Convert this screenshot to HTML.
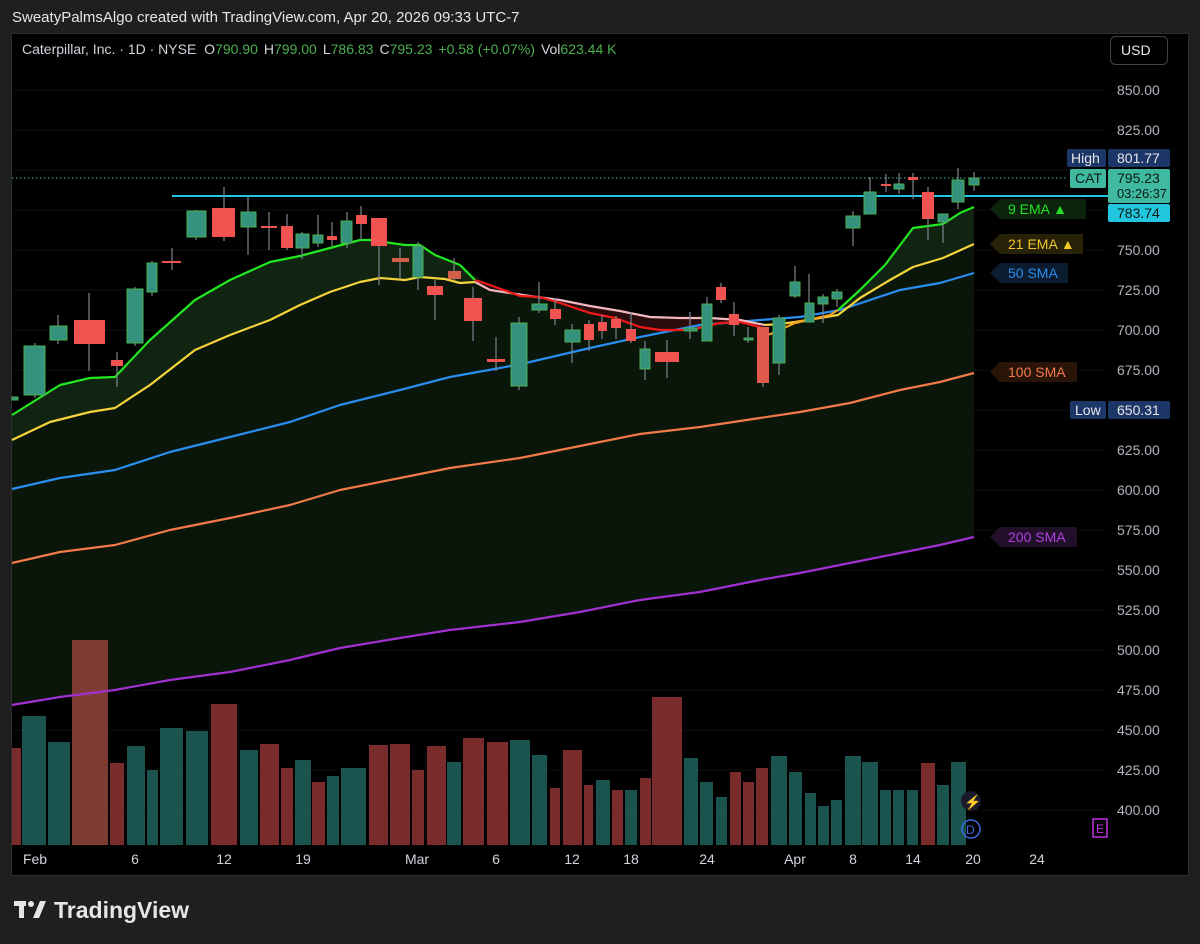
<!DOCTYPE html>
<html><head><meta charset="utf-8"><style>
html,body{margin:0;padding:0;background:#1f1f1f;width:1200px;height:944px;overflow:hidden}
svg{display:block}
text{font-family:"Liberation Sans",sans-serif}
</style></head><body>
<svg width="1200" height="944" viewBox="0 0 1200 944" xmlns="http://www.w3.org/2000/svg">
<rect width="1200" height="944" fill="#1f1f1f"/>
<text x="12" y="22" fill="#e6e6e6" font-size="15">SweatyPalmsAlgo created with TradingView.com, Apr 20, 2026 09:33 UTC-7</text>
<rect x="11.5" y="33.5" width="1177" height="842" fill="#000" stroke="#2e2e2e"/>
<!-- grid -->
<g stroke="#0e0e0e" stroke-width="1">
<line x1="12" x2="1108" y1="90" y2="90"/><line x1="12" x2="1108" y1="130" y2="130"/><line x1="12" x2="1108" y1="170" y2="170"/><line x1="12" x2="1108" y1="210" y2="210"/><line x1="12" x2="1108" y1="250" y2="250"/><line x1="12" x2="1108" y1="290" y2="290"/><line x1="12" x2="1108" y1="330" y2="330"/><line x1="12" x2="1108" y1="370" y2="370"/><line x1="12" x2="1108" y1="410" y2="410"/><line x1="12" x2="1108" y1="450" y2="450"/><line x1="12" x2="1108" y1="490" y2="490"/><line x1="12" x2="1108" y1="530" y2="530"/><line x1="12" x2="1108" y1="570" y2="570"/><line x1="12" x2="1108" y1="610" y2="610"/><line x1="12" x2="1108" y1="650" y2="650"/><line x1="12" x2="1108" y1="690" y2="690"/><line x1="12" x2="1108" y1="730" y2="730"/><line x1="12" x2="1108" y1="770" y2="770"/><line x1="12" x2="1108" y1="810" y2="810"/>
</g>
<!-- fills -->
<polygon fill="#0b160b" points="12,415 60,385 90,378 115,377 150,340 195,300 230,280 270,262 300,256 330,248 360,240 370,240 405,245 420,245 435,255 460,265 490,285 520,296 540,297 560,303 590,313 615,318 640,327 660,330 690,330 720,323 740,322 760,327 762,337 773,333 795,323 830,315 838,310 860,290 885,265 913,228 943,224 960,213 974,207 974,537 940,545 900,553 850,563 800,573 760,580 700,592 640,600 580,612 520,622 450,630 400,638 340,648 290,660 230,672 170,680 115,690 60,697 12,705"/>
<polygon fill="#112411" points="12,415 60,385 90,378 115,377 150,340 195,300 230,280 270,262 300,256 330,248 360,240 370,240 405,245 420,245 435,255 460,265 475,280 460,283 445,279 420,277 405,280 380,278 360,282 330,292 300,305 270,320 230,335 195,350 150,385 115,408 90,412 50,422 12,440"/>
<polygon fill="#2a0c0c" points="475,282 490,285 520,296 540,297 560,303 590,313 615,318 640,327 660,330 690,330 720,323 740,322 760,327 762,337 765,325 740,320 710,318 680,318 650,317 620,311 590,306 560,300 530,296 490,290"/>
<polygon fill="#112411" points="838,310 860,290 885,265 913,228 943,224 960,213 974,207 974,244 943,258 913,267 890,280 860,298"/>
<!-- volume -->
<g fill="#1d5953" opacity="0.95">
<rect x="22" y="716" width="24" height="129"/><rect x="48" y="742" width="22" height="103"/><rect x="127" y="746" width="18" height="99"/><rect x="147" y="770" width="11" height="75"/><rect x="160" y="728" width="23" height="117"/><rect x="186" y="731" width="22" height="114"/><rect x="240" y="750" width="18" height="95"/><rect x="295" y="760" width="16" height="85"/><rect x="327" y="776" width="12" height="69"/><rect x="341" y="768" width="25" height="77"/><rect x="447" y="762" width="14" height="83"/><rect x="510" y="740" width="20" height="105"/><rect x="532" y="755" width="15" height="90"/><rect x="596" y="780" width="14" height="65"/><rect x="625" y="790" width="12" height="55"/><rect x="684" y="758" width="14" height="87"/><rect x="700" y="782" width="13" height="63"/><rect x="716" y="797" width="11" height="48"/><rect x="771" y="756" width="16" height="89"/><rect x="789" y="772" width="13" height="73"/><rect x="805" y="793" width="11" height="52"/><rect x="818" y="806" width="11" height="39"/><rect x="831" y="800" width="11" height="45"/><rect x="845" y="756" width="16" height="89"/><rect x="862" y="762" width="16" height="83"/><rect x="880" y="790" width="11" height="55"/><rect x="893" y="790" width="11" height="55"/><rect x="907" y="790" width="11" height="55"/><rect x="937" y="785" width="12" height="60"/><rect x="951" y="762" width="15" height="83"/>
</g>
<g fill="#7a2b2b">
<rect x="12" y="748" width="9" height="97"/><rect x="72" y="640" width="36" height="205" fill="#7e3b34"/><rect x="110" y="763" width="14" height="82"/><rect x="211" y="704" width="26" height="141"/><rect x="260" y="744" width="19" height="101"/><rect x="281" y="768" width="12" height="77"/><rect x="312" y="782" width="13" height="63"/><rect x="369" y="745" width="19" height="100"/><rect x="390" y="744" width="20" height="101"/><rect x="412" y="770" width="12" height="75"/><rect x="427" y="746" width="19" height="99"/><rect x="463" y="738" width="21" height="107"/><rect x="487" y="742" width="21" height="103"/><rect x="550" y="788" width="10" height="57"/><rect x="563" y="750" width="19" height="95"/><rect x="584" y="785" width="9" height="60"/><rect x="612" y="790" width="11" height="55"/><rect x="640" y="778" width="11" height="67"/><rect x="652" y="697" width="30" height="148"/><rect x="730" y="772" width="11" height="73"/><rect x="743" y="782" width="11" height="63"/><rect x="756" y="768" width="12" height="77"/><rect x="921" y="763" width="14" height="82"/>
</g>
<!-- MA lines -->
<g fill="none" stroke-width="2.2" stroke-linejoin="round">
<polyline stroke="#a030d0" points="12,705 60,697 115,690 170,680 230,672 290,660 340,648 400,638 450,630 520,622 580,612 640,600 700,592 760,580 800,573 850,563 900,553 940,545 974,537"/>
<polyline stroke="#f27a4a" points="12,563 60,552 115,545 170,530 230,518 290,505 340,490 400,478 450,468 520,458 580,446 640,434 700,427 760,418 800,412 850,403 900,390 940,382 974,373"/>
<polyline stroke="#2a8ef0" points="12,489 60,478 115,470 170,452 230,437 290,422 340,405 400,390 450,377 500,368 530,362 590,348 640,337 700,325 760,320 800,317 840,310 900,290 940,283 974,273"/>
<polyline stroke="#f5d33a" points="12,440 50,422 90,412 115,408 150,385 195,350 230,335 270,320 300,305 330,292 360,282 380,278 405,280 420,277 445,279 460,283 475,282"/>
<polyline stroke="#f2b8c0" points="475,282 490,290 530,296 560,300 590,306 620,311 650,317 680,318 710,318 740,320 765,325"/>
<polyline stroke="#f5d33a" points="765,325 780,324 795,322 820,318 838,315 860,298 890,280 913,267 943,258 974,244"/>
<polyline stroke="#22e822" points="12,415 60,385 90,378 115,377 150,340 195,300 230,280 270,262 300,256 330,248 360,240 370,240 405,245 420,245 435,255 460,265 475,280"/>
<polyline stroke="#f01818" points="475,280 490,285 520,296 540,297 560,303 590,313 615,318 640,327 660,330 690,330 720,323 740,322 760,327 762,337"/>
<polyline stroke="#f5a020" points="762,337 773,333 795,323 830,315 838,310"/>
<polyline stroke="#22e822" points="838,310 860,290 885,265 913,228 943,224 960,213 974,207"/>
</g>
<!-- price lines -->
<line x1="12" x2="1068" y1="178" y2="178" stroke="#3fb9a0" stroke-dasharray="1.5,2.5" stroke-width="1"/>
<line x1="172" x2="1108" y1="196" y2="196" stroke="#22c6de" stroke-width="2"/>
<!-- candles -->
<g stroke="#7c8591" stroke-width="1.2">
<line x1="35" x2="35" y1="343" y2="398"/><line x1="58" x2="58" y1="315" y2="344"/><line x1="89" x2="89" y1="293" y2="371"/><line x1="117" x2="117" y1="352" y2="387"/><line x1="135" x2="135" y1="287" y2="346"/><line x1="152" x2="152" y1="261" y2="296"/><line x1="172" x2="172" y1="248" y2="270"/><line x1="196" x2="196" y1="210" y2="240"/><line x1="224" x2="224" y1="187" y2="241"/><line x1="248" x2="248" y1="196" y2="255"/><line x1="269" x2="269" y1="212" y2="250"/><line x1="287" x2="287" y1="214" y2="250"/><line x1="302" x2="302" y1="232" y2="259"/><line x1="318" x2="318" y1="215" y2="247"/><line x1="332" x2="332" y1="222" y2="246"/><line x1="347" x2="347" y1="212" y2="248"/><line x1="361" x2="361" y1="206" y2="240"/><line x1="379" x2="379" y1="218" y2="285"/><line x1="400" x2="400" y1="248" y2="279"/><line x1="418" x2="418" y1="242" y2="290"/><line x1="435" x2="435" y1="280" y2="320"/><line x1="454" x2="454" y1="258" y2="280"/><line x1="473" x2="473" y1="287" y2="341"/><line x1="496" x2="496" y1="337" y2="371"/><line x1="519" x2="519" y1="317" y2="390"/><line x1="539" x2="539" y1="282" y2="313"/><line x1="555" x2="555" y1="298" y2="325"/><line x1="572" x2="572" y1="324" y2="363"/><line x1="589" x2="589" y1="320" y2="351"/><line x1="602" x2="602" y1="315" y2="339"/><line x1="616" x2="616" y1="316" y2="339"/><line x1="631" x2="631" y1="312" y2="343"/><line x1="645" x2="645" y1="341" y2="380"/><line x1="667" x2="667" y1="340" y2="378"/><line x1="690" x2="690" y1="312" y2="339"/><line x1="707" x2="707" y1="297" y2="341"/><line x1="721" x2="721" y1="283" y2="303"/><line x1="734" x2="734" y1="302" y2="336"/><line x1="748" x2="748" y1="327" y2="343"/><line x1="763" x2="763" y1="327" y2="387"/><line x1="779" x2="779" y1="315" y2="375"/><line x1="795" x2="795" y1="266" y2="298"/><line x1="809" x2="809" y1="274" y2="322"/><line x1="823" x2="823" y1="294" y2="323"/><line x1="837" x2="837" y1="289" y2="307"/><line x1="853" x2="853" y1="211" y2="246"/><line x1="870" x2="870" y1="177" y2="214"/><line x1="886" x2="886" y1="174" y2="192"/><line x1="899" x2="899" y1="173" y2="194"/><line x1="913" x2="913" y1="173" y2="199"/><line x1="928" x2="928" y1="187" y2="240"/><line x1="943" x2="943" y1="214" y2="243"/><line x1="958" x2="958" y1="168" y2="209"/><line x1="974" x2="974" y1="172" y2="191"/>
</g>
<g fill="#35927f" stroke="#4caf50" stroke-width="1">
<rect x="12" y="397" width="6" height="3"/><rect x="24" y="346" width="21" height="49"/><rect x="50" y="326" width="17" height="14"/><rect x="127" y="289" width="16" height="54"/><rect x="147" y="263" width="10" height="29"/><rect x="187" y="211" width="19" height="26"/><rect x="241" y="212" width="15" height="15"/><rect x="296" y="234" width="13" height="14"/><rect x="313" y="235" width="10" height="8"/><rect x="341" y="221" width="11" height="22"/><rect x="413" y="246" width="10" height="31"/><rect x="511" y="323" width="16" height="63"/><rect x="532" y="304" width="15" height="6"/><rect x="565" y="330" width="15" height="12"/><rect x="640" y="349" width="10" height="20"/><rect x="684" y="328" width="13" height="3"/><rect x="702" y="304" width="10" height="37"/><rect x="744" y="338" width="9" height="2"/><rect x="773" y="318" width="12" height="45"/><rect x="790" y="282" width="10" height="14"/><rect x="805" y="303" width="9" height="19"/><rect x="818" y="297" width="10" height="7"/><rect x="832" y="292" width="10" height="7"/><rect x="846" y="216" width="14" height="12"/><rect x="864" y="192" width="12" height="22"/><rect x="894" y="184" width="10" height="5"/><rect x="938" y="214" width="10" height="8"/><rect x="952" y="180" width="12" height="22"/><rect x="969" y="178" width="10" height="7"/>
</g>
<g fill="#f05350">
<rect x="74" y="320" width="31" height="24"/><rect x="111" y="360" width="12" height="6"/><rect x="162" y="261" width="19" height="2"/><rect x="212" y="208" width="23" height="29"/><rect x="261" y="226" width="16" height="2"/><rect x="281" y="226" width="12" height="22"/><rect x="327" y="236" width="10" height="4"/><rect x="356" y="215" width="11" height="9"/><rect x="371" y="218" width="16" height="28"/><rect x="392" y="258" width="17" height="4" fill="#d0604a"/><rect x="427" y="286" width="16" height="9"/><rect x="448" y="271" width="13" height="8" fill="#d0604a"/><rect x="464" y="298" width="18" height="23"/><rect x="487" y="359" width="18" height="3"/><rect x="550" y="309" width="11" height="10"/><rect x="584" y="324" width="10" height="16"/><rect x="598" y="322" width="9" height="9"/><rect x="611" y="319" width="10" height="9"/><rect x="626" y="329" width="10" height="12"/><rect x="655" y="352" width="24" height="10"/><rect x="716" y="287" width="10" height="13"/><rect x="729" y="314" width="10" height="11"/><rect x="757" y="327" width="12" height="56" fill="#e05a4c"/><rect x="881" y="184" width="10" height="2"/><rect x="908" y="177" width="10" height="3"/><rect x="922" y="192" width="12" height="27"/>
</g>
<!-- header -->
<text x="22" y="54" font-size="14" fill="#d1d4dc">Caterpillar, Inc. · 1D · NYSE <tspan dx="4">O</tspan><tspan fill="#4caf50">790.90</tspan><tspan dx="6">H</tspan><tspan fill="#4caf50">799.00</tspan><tspan dx="6">L</tspan><tspan fill="#4caf50">786.83</tspan><tspan dx="6">C</tspan><tspan fill="#4caf50">795.23</tspan><tspan dx="6" fill="#4caf50">+0.58 (+0.07%)</tspan><tspan dx="6">Vol</tspan><tspan fill="#4caf50">623.44 K</tspan></text>
<rect x="1110.5" y="36.5" width="57" height="28" rx="5" fill="#000" stroke="#444"/>
<text x="1121" y="55" font-size="14" fill="#e6e6e6">USD</text>
<!-- price axis -->
<g font-size="14" fill="#b2b5be">
<text x="1117" y="95">850.00</text><text x="1117" y="135">825.00</text><text x="1117" y="255">750.00</text><text x="1117" y="295">725.00</text><text x="1117" y="335">700.00</text><text x="1117" y="375">675.00</text><text x="1117" y="455">625.00</text><text x="1117" y="495">600.00</text><text x="1117" y="535">575.00</text><text x="1117" y="575">550.00</text><text x="1117" y="615">525.00</text><text x="1117" y="655">500.00</text><text x="1117" y="695">475.00</text><text x="1117" y="735">450.00</text><text x="1117" y="775">425.00</text><text x="1117" y="815">400.00</text>
</g>
<rect x="1067" y="149" width="39" height="18" rx="2" fill="#1c3668"/><text x="1071" y="163" font-size="14" fill="#e6e6e6">High</text>
<rect x="1108" y="149" width="62" height="18" rx="2" fill="#1c3668"/><text x="1117" y="163" font-size="14" fill="#e6e6e6">801.77</text>
<rect x="1070" y="169" width="36" height="19" rx="2" fill="#3fb9a0"/><text x="1075" y="183" font-size="14" fill="#0a1a16">CAT</text>
<rect x="1108" y="169" width="62" height="34" rx="2" fill="#3fb9a0"/><text x="1117" y="183" font-size="14" fill="#0a1a16">795.23</text><text x="1117" y="198" font-size="13" fill="#0a1a16" textLength="50">03:26:37</text>
<rect x="1108" y="204" width="62" height="18" rx="2" fill="#22c6de"/><text x="1117" y="218" font-size="14" fill="#0a1a16">783.74</text>
<rect x="1070" y="401" width="36" height="18" rx="2" fill="#1c3668"/><text x="1075" y="415" font-size="14" fill="#e6e6e6">Low</text>
<rect x="1108" y="401" width="62" height="18" rx="2" fill="#1c3668"/><text x="1117" y="415" font-size="14" fill="#e6e6e6">650.31</text>
<!-- MA tags -->
<polygon points="990,209 1000,199 1086,199 1086,219 1000,219" fill="#0c240c"/><text x="1008" y="214" font-size="14" fill="#22e022">9 EMA ▲</text>
<polygon points="990,244 1000,234 1083,234 1083,254 1000,254" fill="#282208"/><text x="1008" y="249" font-size="14" fill="#f0c828">21 EMA ▲</text>
<polygon points="990,273 1000,263 1068,263 1068,283 1000,283" fill="#0c1c30"/><text x="1008" y="278" font-size="14" fill="#2a8ef0">50 SMA</text>
<polygon points="990,372 1000,362 1077,362 1077,382 1000,382" fill="#2a1408"/><text x="1008" y="377" font-size="14" fill="#f27a4a">100 SMA</text>
<polygon points="990,537 1000,527 1077,527 1077,547 1000,547" fill="#22102a"/><text x="1008" y="542" font-size="14" fill="#b040e0">200 SMA</text>
<!-- icons -->
<circle cx="971" cy="801" r="10" fill="#1a1a2a"/><text x="964" y="807" font-size="14" fill="#a070f0">⚡</text>
<circle cx="971" cy="829" r="9" fill="none" stroke="#3a6ae0" stroke-width="1.5"/><text x="966" y="834" font-size="12" fill="#3a6ae0">D</text>
<rect x="1093" y="819" width="14" height="18" fill="none" stroke="#c030e0" stroke-width="1.5"/><text x="1096" y="833" font-size="12" fill="#c030e0">E</text>
<!-- time axis -->
<g font-size="14" fill="#d1d4dc" text-anchor="middle">
<text x="35" y="864">Feb</text><text x="135" y="864">6</text><text x="224" y="864">12</text><text x="303" y="864">19</text><text x="417" y="864">Mar</text><text x="496" y="864">6</text><text x="572" y="864">12</text><text x="631" y="864">18</text><text x="707" y="864">24</text><text x="795" y="864">Apr</text><text x="853" y="864">8</text><text x="913" y="864">14</text><text x="973" y="864">20</text><text x="1037" y="864">24</text>
</g>
<!-- logo -->
<g fill="#e6e6e6">
<rect x="14" y="901" width="12" height="5"/><rect x="19" y="901" width="5" height="17"/><circle cx="31" cy="904" r="3"/><polygon points="33,918 40,901 46,901 39,918"/>
</g>
<text x="54" y="918" font-size="23" font-weight="bold" fill="#e6e6e6">TradingView</text>
</svg>
</body></html>
